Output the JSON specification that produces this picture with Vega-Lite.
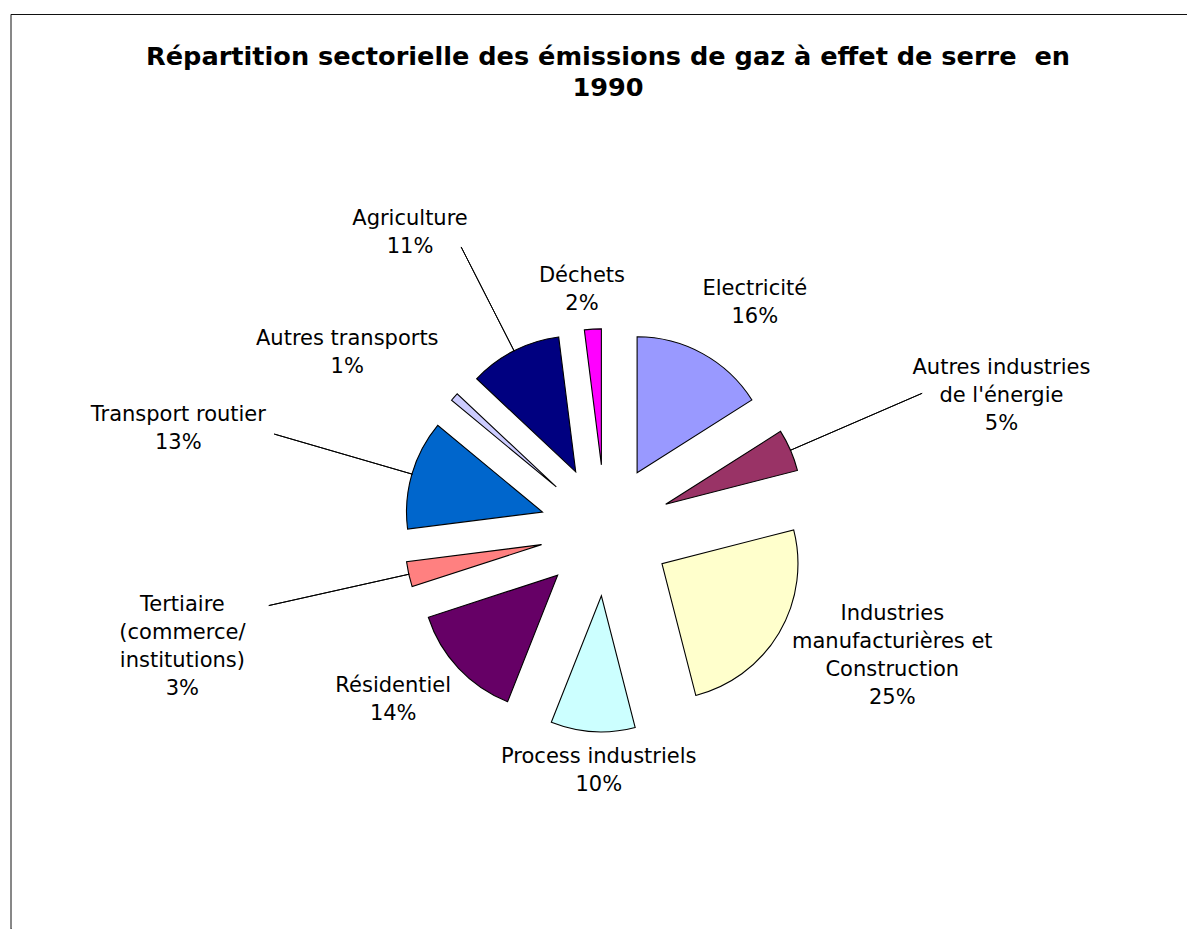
{
  "$schema": "https://vega.github.io/schema/vega-lite/v6.json",
  "width": 1176,
  "height": 915,
  "autosize": {"type": "none"},
  "padding": {"left": 11, "top": 14, "right": 0, "bottom": 0},
  "background": "white",
  "config": {"view": {"stroke": null}, "font": "DejaVu Sans"},
  "title": {
    "text": ["Répartition sectorielle des émissions de gaz à effet de serre \u00a0en", "1990"],
    "font": "DejaVu Sans",
    "fontSize": 25.6,
    "fontWeight": "bold",
    "color": "black",
    "lineHeight": 31,
    "anchor": "middle",
    "frame": "group",
    "baseline": "top",
    "offset": -88,
    "dx": 9
  },
  "layer": [
    {
      "data": {"values": [{}]},
      "mark": {"type": "rect", "fill": "transparent", "stroke": "#111111", "strokeWidth": 1, "xOffset": 0.5, "yOffset": 0.5, "strokeDash": [1176, 2091, 915]}
    },
    {
      "data": {
        "values": [
          {"ord": 1, "secteur": "Electricité", "pct": 16, "label": "Electricité\n16%"},
          {"ord": 2, "secteur": "Autres industries de l'énergie", "pct": 5, "label": "Autres industries\nde l'énergie\n5%"},
          {"ord": 3, "secteur": "Industries manufacturières et Construction", "pct": 25, "label": "Industries\nmanufacturières et\nConstruction\n25%"},
          {"ord": 4, "secteur": "Process industriels", "pct": 10, "label": "Process industriels\n10%"},
          {"ord": 5, "secteur": "Résidentiel", "pct": 14, "label": "Résidentiel\n14%"},
          {"ord": 6, "secteur": "Tertiaire (commerce/institutions)", "pct": 3, "label": "Tertiaire\n(commerce/\ninstitutions)\n3%"},
          {"ord": 7, "secteur": "Transport routier", "pct": 13, "label": "Transport routier\n13%"},
          {"ord": 8, "secteur": "Autres transports", "pct": 1, "label": "Autres transports\n1%"},
          {"ord": 9, "secteur": "Agriculture", "pct": 11, "label": "Agriculture\n11%"},
          {"ord": 10, "secteur": "Déchets", "pct": 2, "label": "Déchets\n2%"}
        ]
      },
      "encoding": {
        "theta": {"field": "pct", "type": "quantitative", "stack": true},
        "order": {"field": "ord", "type": "quantitative"},
        "detail": {"field": "secteur", "type": "nominal"}
      },
      "layer": [
        {
          "mark": {
            "type": "arc",
            "radius": 136,
            "stroke": "black",
            "strokeWidth": 1.1,
            "xOffset": {"expr": "6.5 + 65.6*sin(scale('theta', 0.5*datum.pct_start + 0.5*datum.pct_end))"},
            "yOffset": {"expr": "58.8 - 65.6*cos(scale('theta', 0.5*datum.pct_start + 0.5*datum.pct_end))"}
          },
          "encoding": {
            "color": {
              "field": "secteur",
              "type": "nominal",
              "legend": null,
              "scale": {
                "domain": ["Electricité", "Autres industries de l'énergie", "Industries manufacturières et Construction", "Process industriels", "Résidentiel", "Tertiaire (commerce/institutions)", "Transport routier", "Autres transports", "Agriculture", "Déchets"],
                "range": ["#9999FF", "#993366", "#FFFFCC", "#CCFFFF", "#660066", "#FF8080", "#0066CC", "#CCCCFF", "#000080", "#FF00FF"]
              }
            }
          }
        },
        {
          "mark": {"type": "arc", "padAngle": 3, "radius": 345, "radius2": 201, "fill": "transparent", "stroke": "black", "strokeWidth": 1, "xOffset": 6.5, "yOffset": 58.8},
          "encoding": {
            "strokeOpacity": {"condition": {"test": {"field": "secteur", "oneOf": ["Autres industries de l'énergie", "Tertiaire (commerce/institutions)", "Transport routier"]}, "value": 1}, "value": 0}
          }
        },
        {
          "mark": {"type": "arc", "padAngle": 3, "radius": 318, "radius2": 201, "fill": "transparent", "stroke": "black", "strokeWidth": 1, "xOffset": 6.5, "yOffset": 58.8},
          "encoding": {
            "strokeOpacity": {"condition": {"test": {"field": "secteur", "oneOf": ["Agriculture"]}, "value": 1}, "value": 0}
          }
        },
        {
          "mark": {"type": "text", "radius": 241, "thetaOffset": -0.035, "xOffset": 6.5, "yOffset": 58.8, "dy": {"expr": "-14*(length(split(datum.label, '\\n')) - 1)"}, "fontSize": 21, "lineHeight": 28, "lineBreak": "\n", "font": "DejaVu Sans", "color": "black"},
          "encoding": {
            "text": {"condition": {"test": {"field": "secteur", "oneOf": ["Process industriels", "Déchets"]}, "field": "label", "type": "nominal"}, "value": ""}
          }
        },
        {
          "mark": {"type": "text", "radius": 272, "thetaOffset": 0.0785, "xOffset": 6.5, "yOffset": 58.8, "dy": {"expr": "-14*(length(split(datum.label, '\\n')) - 1)"}, "fontSize": 21, "lineHeight": 28, "lineBreak": "\n", "font": "DejaVu Sans", "color": "black"},
          "encoding": {
            "text": {"condition": {"test": {"field": "secteur", "oneOf": ["Electricité", "Résidentiel"]}, "field": "label", "type": "nominal"}, "value": ""}
          }
        },
        {
          "mark": {"type": "text", "radius": 313, "thetaOffset": -0.122, "xOffset": 6.5, "yOffset": 58.8, "dy": {"expr": "-14*(length(split(datum.label, '\\n')) - 1)"}, "fontSize": 21, "lineHeight": 28, "lineBreak": "\n", "font": "DejaVu Sans", "color": "black"},
          "encoding": {
            "text": {"condition": {"test": {"field": "secteur", "oneOf": ["Autres transports", "Industries manufacturières et Construction"]}, "field": "label", "type": "nominal"}, "value": ""}
          }
        },
        {
          "mark": {"type": "text", "radius": 356, "thetaOffset": -0.11, "xOffset": 6.5, "yOffset": 58.8, "dy": {"expr": "-14*(length(split(datum.label, '\\n')) - 1)"}, "fontSize": 21, "lineHeight": 28, "lineBreak": "\n", "font": "DejaVu Sans", "color": "black"},
          "encoding": {
            "text": {"condition": {"test": {"field": "secteur", "oneOf": ["Agriculture"]}, "field": "label", "type": "nominal"}, "value": ""}
          }
        },
        {
          "mark": {"type": "text", "radius": 418, "thetaOffset": 0.082, "xOffset": 6.5, "yOffset": 58.8, "dy": {"expr": "-14*(length(split(datum.label, '\\n')) - 1)"}, "fontSize": 21, "lineHeight": 28, "lineBreak": "\n", "font": "DejaVu Sans", "color": "black"},
          "encoding": {
            "text": {"condition": {"test": {"field": "secteur", "oneOf": ["Autres industries de l'énergie"]}, "field": "label", "type": "nominal"}, "value": ""}
          }
        },
        {
          "mark": {"type": "text", "radius": 439, "thetaOffset": -0.05, "xOffset": 6.5, "yOffset": 58.8, "dy": {"expr": "-14*(length(split(datum.label, '\\n')) - 1)"}, "fontSize": 21, "lineHeight": 28, "lineBreak": "\n", "font": "DejaVu Sans", "color": "black"},
          "encoding": {
            "text": {"condition": {"test": {"field": "secteur", "oneOf": ["Tertiaire (commerce/institutions)", "Transport routier"]}, "field": "label", "type": "nominal"}, "value": ""}
          }
        }
      ]
    }
  ]
}
